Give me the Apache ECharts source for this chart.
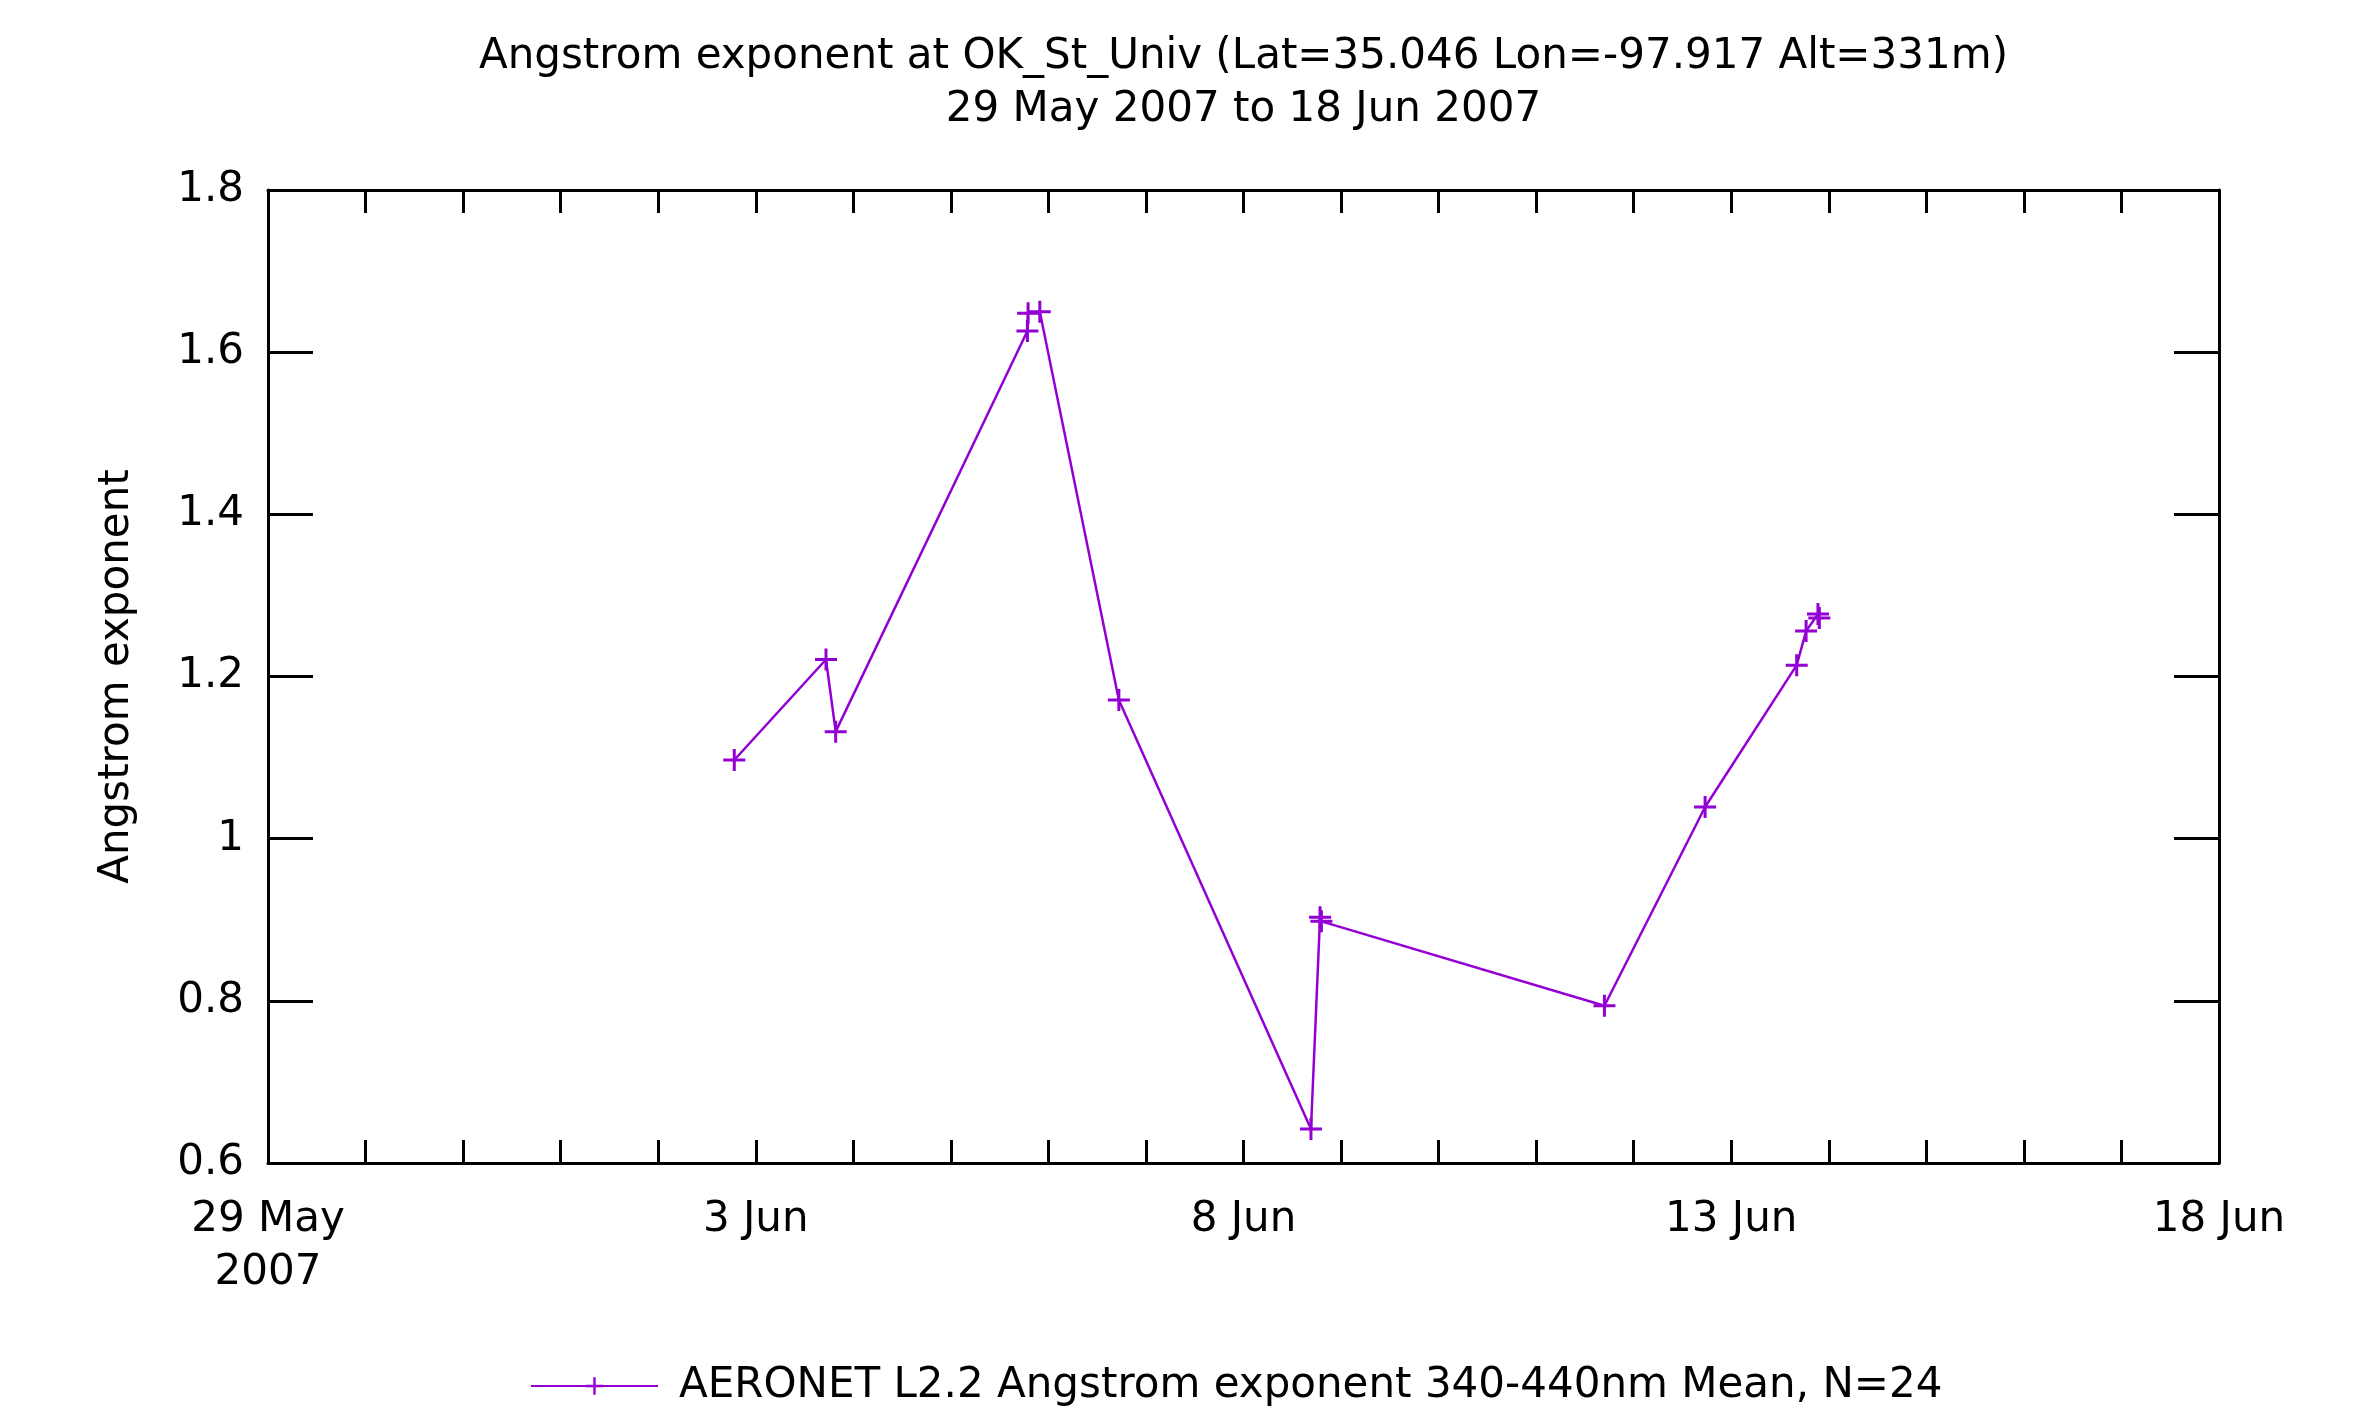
<!DOCTYPE html>
<html>
<head>
<meta charset="utf-8">
<script src="https://cdn.jsdelivr.net/npm/echarts@6/dist/echarts.min.js"></script>
<style>html,body{margin:0;padding:0;background:#fff;}#chart{width:2362px;height:1411px;}</style>
</head>
<body>
<div id="chart"></div>
<script>
// ---- data ----
var startDate = '2007-05-29T00:00:00Z';
var obsTimes = [
  '2007-06-02T18:43:00Z','2007-06-03T17:17:00Z','2007-06-03T19:40:00Z',
  '2007-06-05T18:50:00Z','2007-06-05T19:00:00Z','2007-06-05T21:53:00Z',
  '2007-06-06T17:20:00Z','2007-06-08T16:36:00Z','2007-06-08T18:50:00Z',
  '2007-06-08T19:10:00Z','2007-06-11T16:48:00Z','2007-06-12T17:34:00Z',
  '2007-06-13T16:06:00Z','2007-06-13T18:25:00Z','2007-06-13T21:20:00Z',
  '2007-06-13T21:40:00Z'
];
var angstromValues = [
  1.097, 1.221, 1.132,
  1.626, 1.648, 1.650,
  1.171, 0.642, 0.903,
  0.898, 0.794, 1.039,
  1.214, 1.256, 1.277,
  1.272
];
var xTickLabels = ['29 May\n2007', '3 Jun', '8 Jun', '13 Jun', '18 Jun'];
var titleText = 'Angstrom exponent at OK_St_Univ (Lat=35.046 Lon=-97.917 Alt=331m)\n29 May 2007 to 18 Jun 2007';
var seriesName = 'AERONET L2.2 Angstrom exponent 340-440nm Mean, N=24';
var yName = 'Angstrom exponent';

// ---- build ----
var t0 = Date.parse(startDate);
var DAY = 86400000;
var seriesData = obsTimes.map(function (t, i) {
  return [(Date.parse(t) - t0) / DAY, angstromValues[i]];
});
var FONT = 'DejaVu Sans';
var FS = 42;
var PURPLE = '#9400D3';
var plusPath = 'path://M-1.5,-11L1.5,-11L1.5,-1.5L11,-1.5L11,1.5L1.5,1.5L1.5,11L-1.5,11L-1.5,1.5L-11,1.5L-11,-1.5L-1.5,-1.5Z';

var chart = echarts.init(document.getElementById('chart'), null, {renderer: 'canvas'});
var axisLineStyle = {show: true, onZero: false, lineStyle: {color: '#000', width: 3}};
chart.setOption({
  animation: false,
  backgroundColor: '#fff',
  title: {
    text: titleText,
    left: 1243.5,
    textAlign: 'center',
    top: 31,
    padding: 0,
    textStyle: {fontFamily: FONT, fontSize: FS, fontWeight: 'normal', color: '#000', lineHeight: 53}
  },
  legend: {
    left: 530,
    top: 1365,
    padding: 0,
    itemWidth: 127,
    itemHeight: 22,
    textStyle: {fontFamily: FONT, fontSize: FS, color: '#000', padding: [0, 0, 0, 16]},
    data: [seriesName]
  },
  grid: {left: 268, right: 143, top: 190, bottom: 248, containLabel: false},
  xAxis: [{
    type: 'value', position: 'bottom', min: 0, max: 20, interval: 1,
    axisLine: axisLineStyle,
    axisTick: {show: true, inside: true, length: 23, lineStyle: {color: '#000', width: 3}},
    splitLine: {show: false},
    axisLabel: {
      interval: 0, showMinLabel: true, showMaxLabel: true, margin: 31,
      fontFamily: FONT, fontSize: FS, color: '#000', lineHeight: 53,
      formatter: function (v) { return (Math.round(v) % 5 === 0) ? xTickLabels[Math.round(v) / 5] : ''; }
    }
  }, {
    type: 'value', position: 'top', min: 0, max: 20, interval: 1,
    axisLine: axisLineStyle,
    axisTick: {show: true, inside: true, length: 23, lineStyle: {color: '#000', width: 3}},
    splitLine: {show: false},
    axisLabel: {show: false}
  }],
  yAxis: [{
    type: 'value', position: 'left', min: 0.6, max: 1.8, interval: 0.2,
    name: yName, nameLocation: 'middle', nameRotate: 90, nameGap: 130,
    nameTextStyle: {fontFamily: FONT, fontSize: FS, color: '#000'},
    axisLine: axisLineStyle,
    axisTick: {show: true, inside: true, length: 45, lineStyle: {color: '#000', width: 3}},
    splitLine: {show: false},
    axisLabel: {
      margin: 24, fontFamily: FONT, fontSize: FS, color: '#000',
      formatter: function (v) { return String(parseFloat(v.toFixed(1))); }
    }
  }, {
    type: 'value', position: 'right', min: 0.6, max: 1.8, interval: 0.2,
    axisLine: axisLineStyle,
    axisTick: {show: true, inside: true, length: 45, lineStyle: {color: '#000', width: 3}},
    splitLine: {show: false},
    axisLabel: {show: false}
  }],
  series: [{
    name: seriesName,
    type: 'line',
    xAxisIndex: 0, yAxisIndex: 0,
    data: seriesData,
    symbol: plusPath,
    symbolSize: 22,
    showAllSymbol: true,
    lineStyle: {color: PURPLE, width: 2.5},
    itemStyle: {color: PURPLE},
    emphasis: {disabled: true}
  }]
});
</script>
</body>
</html>
